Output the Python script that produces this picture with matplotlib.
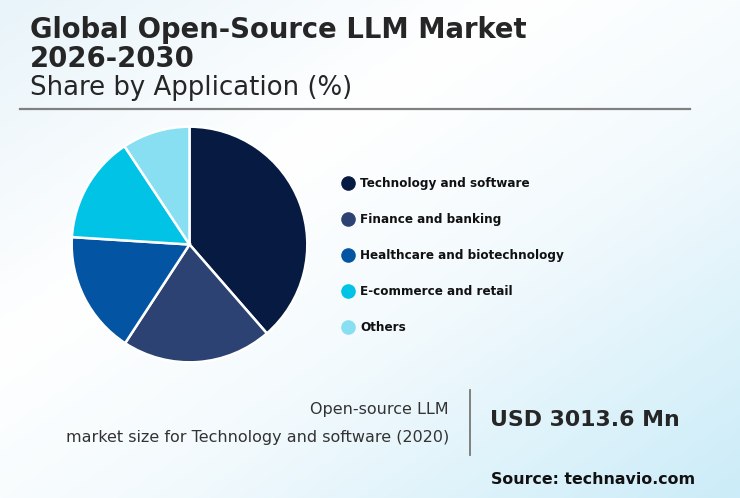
import numpy as np
import matplotlib
matplotlib.use('Agg')
import matplotlib.pyplot as plt
from matplotlib.colors import LinearSegmentedColormap

plt.rcParams['font.family'] = ['DejaVu Sans']

# data
labels = ['Technology and software', 'Finance and banking',
          'Healthcare and biotechnology', 'E-commerce and retail', 'Others']
shares = [38.6, 20.6, 16.8, 14.7, 9.3]
colors = ['#071b42', '#2c4272', '#0354a3', '#00c3e5', '#88dff2']

title_lines = ['Global Open-Source LLM Market', '2026-2030']
subtitle = 'Share by Application (%)'
callout_label = ['Open-source LLM', 'market size for Technology and software (2020)']
callout_value = 'USD 3013.6 Mn'
source = 'Source: technavio.com'

W, H = 740, 498
fig = plt.figure(figsize=(W / 100, H / 100), dpi=100)

# background axes in pixel coords
bg = fig.add_axes([0, 0, 1, 1], zorder=0)
bg.set_xlim(0, W)
bg.set_ylim(H, 0)
bg.axis('off')

yy, xx = np.mgrid[0:H, 0:W]
t = (xx / W + yy / H) / 2
cmap = LinearSegmentedColormap.from_list(
    'bg', [(0, '#e8f4fa'), (0.35, '#ffffff'), (0.6, '#f3fafd'), (1, '#cbecf8')])
bg.imshow(t, cmap=cmap, extent=[0, W, H, 0], aspect='auto', vmin=0, vmax=1)

# title block
bg.text(30, 30, title_lines[0], fontsize=19.8, fontweight='bold', color='#262626', va='center')
bg.text(30, 59, title_lines[1], fontsize=19.8, fontweight='bold', color='#262626', va='center')
bg.text(30, 88, subtitle, fontsize=18.7, color='#262626', va='center')
bg.plot([20, 690], [109, 109], color='#808080', lw=1.6)

# legend
for i, (lab, col) in enumerate(zip(labels, colors)):
    y = 183 + i * 36
    bg.scatter([348], [y], s=90, color=col, zorder=3)
    bg.text(360, y, lab, fontsize=8.65, fontweight='bold', color='#111111', va='center')

# callout
bg.text(449, 409, callout_label[0], fontsize=11.5, color='#333333', ha='right', va='center')
bg.text(449, 437, callout_label[1], fontsize=11.5, color='#333333', ha='right', va='center')
bg.plot([470, 470], [390, 455], color='#777777', lw=1.3)
bg.text(490, 420, callout_value, fontsize=15.8, fontweight='bold', color='#262626', va='center')
bg.text(695, 479, source, fontsize=11.4, fontweight='bold', color='#111111', ha='right', va='center')

# pie
cx, cy, r = 189.5, 244.5, 119
ax = fig.add_axes([(cx - r) / W, 1 - (cy + r) / H, 2 * r / W, 2 * r / H], zorder=1)
ax.pie(shares, colors=colors, startangle=90, counterclock=False, radius=1,
       wedgeprops=dict(edgecolor='white', linewidth=1.8))
ax.set_xlim(-1.01, 1.01)
ax.set_ylim(-1.01, 1.01)
ax.set_aspect('equal')
ax.axis('off')

fig.savefig('out.png', dpi=100)
